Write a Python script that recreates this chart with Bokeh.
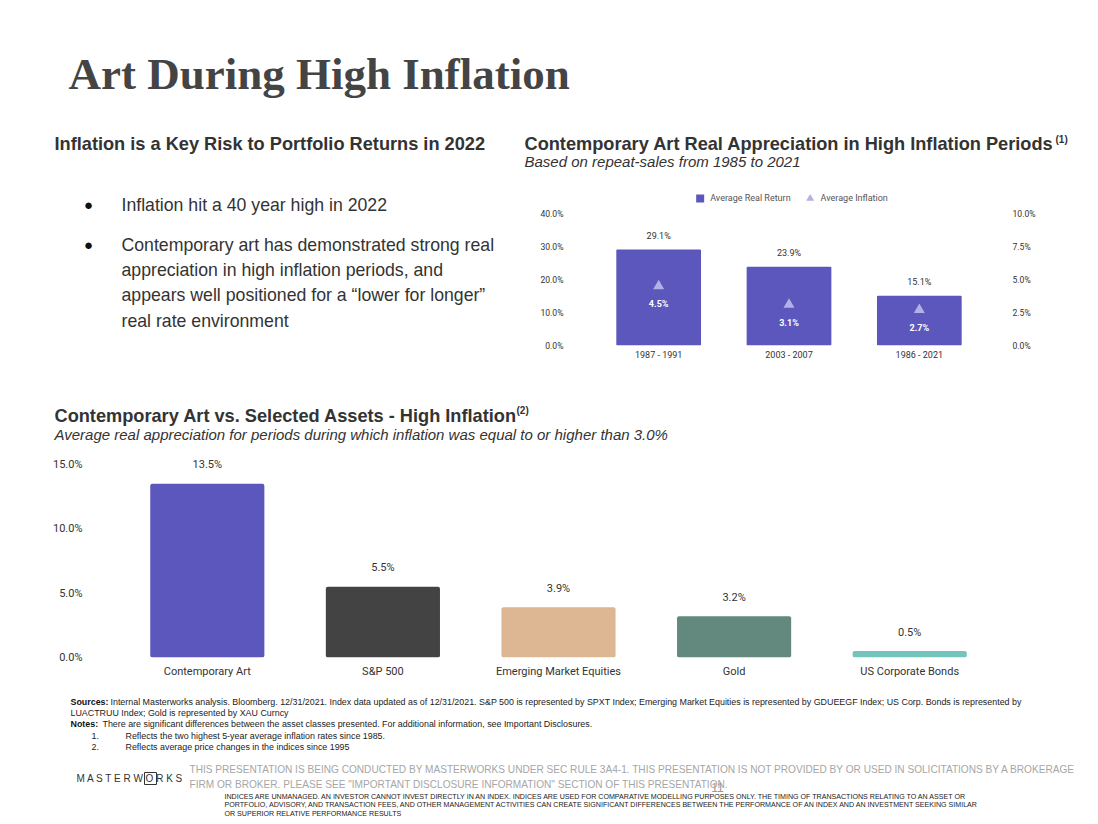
from bokeh.plotting import figure
from bokeh.layouts import column, row
from bokeh.models import (Range1d, FactorRange, LinearAxis, FixedTicker, PrintfTickFormatter,
                          ColumnDataSource, LabelSet, Legend, LegendItem)
from bokeh.core.properties import value
from bokeh.embed import file_html
from bokeh.resources import INLINE

# ---------------- data ----------------
periods = ["1987 - 1991", "2003 - 2007", "1986 - 2021"]
real_return = [29.1, 23.9, 15.1]
avg_inflation = [4.5, 3.1, 2.7]
return_ticks = [0, 10, 20, 30, 40]
inflation_ticks = [0, 2.5, 5, 7.5, 10]

assets = ["Contemporary Art", "S&P 500", "Emerging Market Equities", "Gold", "US Corporate Bonds"]
asset_returns = [13.5, 5.5, 3.9, 3.2, 0.5]
asset_colors = ["#5b57bd", "#434343", "#ddb793", "#63897f", "#74c4bd"]
asset_ticks = [0, 5, 10, 15]

PURPLE = "#5b57bd"
LAVENDER = "#b3b0e6"
UI = "Liberation Sans"
CH = "Roboto"
RET_TOP = 47.6            # room above the 40% tick for the legend
INFL_TOP = RET_TOP / 4.0  # secondary axis: 10% aligned with 40%


def canvas(w, h):
    p = figure(width=w, height=h, x_range=Range1d(0, w), y_range=Range1d(h, 0),
               output_backend="svg", toolbar_location=None, min_border=0,
               x_axis_location=None, y_axis_location=None, outline_line_color=None,
               frame_align=False)
    p.grid.visible = False
    return p


def put(p, x, y, s, size, color="#333333", style="normal", font=UI, align="left", baseline="middle"):
    p.text(x=[x], y=[y], text=[s], text_font=value(font), text_font_size=size,
           text_font_style=style, text_color=color, text_align=align, text_baseline=baseline)


def style_axis(ax, size, standoff):
    ax.axis_line_color = None
    ax.major_tick_line_color = None
    ax.minor_tick_line_color = None
    ax.major_tick_out = 0
    ax.major_tick_in = 0
    ax.major_label_text_font = CH
    ax.major_label_text_font_size = size
    ax.major_label_text_color = "#333333"
    ax.major_label_standoff = standoff


# ---------------- header ----------------
header = canvas(1090, 128)
put(header, 68, 73, "Art During High Inflation", "45px", "#444444", "bold", "Liberation Serif")

# ---------------- left text ----------------
left = canvas(516, 262)
put(left, 54, 15, "Inflation is a Key Risk to Portfolio Returns in 2022", "18.2px", "#333333", "bold")
put(left, 88, 76, "●", "15px", "#111111", align="center")
put(left, 88, 116, "●", "15px", "#111111", align="center")
bullet_lines = ["Inflation hit a 40 year high in 2022",
                "Contemporary art has demonstrated strong real",
                "appreciation in high inflation periods, and",
                "appears well positioned for a “lower for longer”",
                "real rate environment"]
for yy, s in zip([76, 116, 141, 166, 192], bullet_lines):
    put(left, 121, yy, s, "17.7px", "#333333")

# ---------------- right chart title ----------------
rt = canvas(574, 55)
put(rt, 8, 15, "Contemporary Art Real Appreciation in High Inflation Periods", "18.2px", "#333333", "bold")
put(rt, 539, 11, "(1)", "10px", "#333333", "bold")
put(rt, 8, 33, "Based on repeat-sales from 1985 to 2021", "15px", "#333333", "italic")

# ---------------- right chart ----------------
rc = figure(width=574, height=207, x_range=FactorRange(*periods), y_range=Range1d(0, RET_TOP),
            output_backend="svg", toolbar_location=None, frame_align=False,
            min_border_left=77, min_border_right=106, min_border_top=5, min_border_bottom=45,
            outline_line_color=None)
rc.extra_y_ranges = {"infl": Range1d(0, INFL_TOP)}
rc.xgrid.visible = False
rc.ygrid.visible = False

src = ColumnDataSource(dict(period=periods, ret=real_return, infl=avg_inflation,
                            ret_lbl=[f"{v:.1f}%" for v in real_return],
                            infl_lbl=[f"{v:.1f}%" for v in avg_inflation]))
bars = rc.vbar(x="period", top="ret", width=0.65, source=src, fill_color=PURPLE, line_color=None,
               border_radius=1)
tri = rc.scatter(x="period", y="infl", y_range_name="infl", marker="triangle", size=11,
                 source=src, fill_color=LAVENDER, line_color=None)
# legend proxy: zero-size squares (only the legend swatch is visible)
sq = rc.scatter(x="period", y="ret", marker="square", size=0, source=src,
                fill_color=PURPLE, line_color=None)

rc.yaxis[0].ticker = FixedTicker(ticks=return_ticks)
rc.yaxis[0].formatter = PrintfTickFormatter(format="%.1f%%")
style_axis(rc.yaxis[0], "8.6px", 30)
ax_r = LinearAxis(y_range_name="infl", ticker=FixedTicker(ticks=inflation_ticks),
                  formatter=PrintfTickFormatter(format="%.1f%%"))
style_axis(ax_r, "8.6px", 28)
rc.add_layout(ax_r, "right")
style_axis(rc.xaxis[0], "9px", 4)

rc.add_layout(LabelSet(x="period", y="ret", text="ret_lbl", source=src, y_offset=14,
                       text_align="center", text_baseline="middle", text_font=value(CH),
                       text_font_size="9px", text_color="#333333"))
rc.add_layout(LabelSet(x="period", y="infl", text="infl_lbl", source=src, y_range_name="infl",
                       y_offset=-18, text_align="center", text_baseline="middle",
                       text_font=value(CH), text_font_size="9px", text_font_style="bold",
                       text_color="#ffffff"))

legend = Legend(items=[LegendItem(label="Average Real Return", renderers=[sq]),
                       LegendItem(label="Average Inflation", renderers=[tri])],
                orientation="horizontal", location="top_center", glyph_width=20, glyph_height=20,
                label_height=20, label_standoff=1, spacing=9, padding=0, margin=0,
                border_line_color=None, background_fill_alpha=0,
                label_text_font=CH, label_text_font_size="9px", label_text_color="#555555")
rc.add_layout(legend)

# ---------------- bottom chart title ----------------
bt = canvas(1090, 60)
put(bt, 54, 25, "Contemporary Art vs. Selected Assets - High Inflation", "18.2px", "#333333", "bold")
put(bt, 516, 20, "(2)", "10px", "#333333", "bold")
put(bt, 54, 44, "Average real appreciation for periods during which inflation was equal to or higher than 3.0%",
    "15px", "#333333", "italic")

# ---------------- bottom chart ----------------
bc = figure(width=1090, height=240, x_range=FactorRange(*assets), y_range=Range1d(0, 16),
            output_backend="svg", toolbar_location=None, frame_align=False,
            min_border_left=119, min_border_right=93, min_border_top=1, min_border_bottom=33,
            outline_line_color=None)
bc.xgrid.visible = False
bc.ygrid.visible = False
src2 = ColumnDataSource(dict(asset=assets, ret=asset_returns, color=asset_colors,
                             lbl=[f"{v:.1f}%" for v in asset_returns]))
bc.vbar(x="asset", top="ret", width=0.65, source=src2, fill_color="color", line_color=None,
        border_radius=2)
bc.yaxis[0].ticker = FixedTicker(ticks=asset_ticks)
bc.yaxis[0].formatter = PrintfTickFormatter(format="%.1f%%")
style_axis(bc.yaxis[0], "11px", 37)
style_axis(bc.xaxis[0], "11px", 7)
bc.add_layout(LabelSet(x="asset", y="ret", text="lbl", source=src2, y_offset=19,
                       text_align="center", text_baseline="middle", text_font=value(CH),
                       text_font_size="11px", text_color="#333333"))

# ---------------- footer ----------------
ft = canvas(1090, 126)
FS = "8.9px"
put(ft, 70, 11, "Sources:", FS, "#111111", "bold")
put(ft, 110, 11, "Internal Masterworks analysis. Bloomberg. 12/31/2021. Index data updated as of 12/31/2021. "
    "S&P 500 is represented by SPXT Index; Emerging Market Equities is represented by GDUEEGF Index; "
    "US Corp. Bonds is represented by", FS, "#222222")
put(ft, 70, 22, "LUACTRUU Index; Gold is represented by XAU Curncy", FS, "#222222")
put(ft, 70, 33, "Notes:", FS, "#111111", "bold")
put(ft, 102, 33, "There are significant differences between the asset classes presented. "
    "For additional information, see Important Disclosures.", FS, "#222222")
put(ft, 91, 45, "1.", FS, "#222222")
put(ft, 125, 45, "Reflects the two highest 5-year average inflation rates since 1985.", FS, "#222222")
put(ft, 91, 56, "2.", FS, "#222222")
put(ft, 125, 56, "Reflects average price changes in the indices since 1995", FS, "#222222")

put(ft, 189, 79, "THIS PRESENTATION  IS BEING CONDUCTED BY MASTERWORKS UNDER SEC RULE 3A4-1. THIS PRESENTATION  "
    "IS NOT PROVIDED BY OR USED IN SOLICITATIONS BY A BROKERAGE", "10.1px", "#a6a6a6")
put(ft, 189, 94, "FIRM OR BROKER. PLEASE SEE \"IMPORTANT DISCLOSURE INFORMATION\" SECTION OF THIS PRESENTATION.",
    "10.1px", "#a6a6a6")
put(ft, 717, 97, "11", "12px", "#999999", align="center")

put(ft, 76, 88, "M A S T E R W O R K S", "10px", "#333333")
ft.rect(x=[150], y=[88], width=[12], height=[12], fill_color=None, line_color="#333333", line_width=1)

small = ["INDICES ARE UNMANAGED. AN INVESTOR CANNOT INVEST DIRECTLY IN AN INDEX. INDICES ARE USED FOR "
         "COMPARATIVE MODELLING PURPOSES ONLY. THE TIMING OF TRANSACTIONS RELATING TO AN ASSET OR",
         "PORTFOLIO, ADVISORY, AND TRANSACTION FEES, AND OTHER MANAGEMENT ACTIVITIES CAN CREATE SIGNIFICANT "
         "DIFFERENCES BETWEEN THE PERFORMANCE OF AN INDEX AND AN INVESTMENT SEEKING SIMILAR",
         "OR SUPERIOR RELATIVE PERFORMANCE RESULTS"]
for yy, s in zip([106, 114.5, 123], small):
    put(ft, 224, yy, s, "7.1px", "#222222")

layout = column(header, row(left, column(rt, rc)), bt, bc, ft)
open("out.html", "w").write(file_html(layout, INLINE))
